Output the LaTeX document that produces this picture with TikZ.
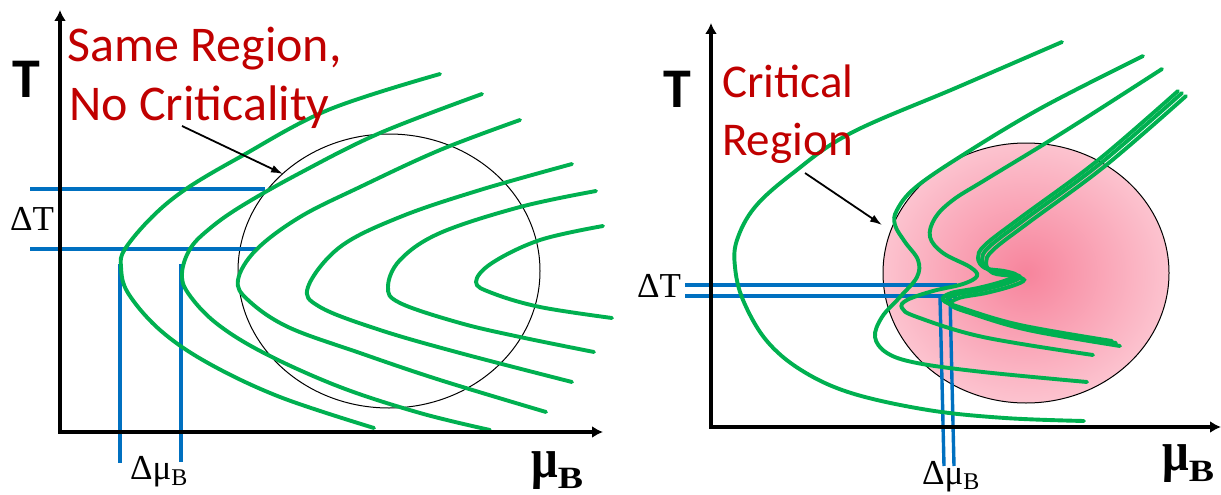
\documentclass[tikz,border=0pt]{standalone}
\usepackage{fontspec}
\setmainfont{Liberation Serif}
\newfontfamily\carlito{Carlito}
\usetikzlibrary{arrows.meta}
\definecolor{redtxt}{HTML}{C00000}
\definecolor{grn}{HTML}{00B050}
\definecolor{blu}{HTML}{0070C0}
\definecolor{pinkc}{HTML}{F7849C}
\definecolor{pinke}{HTML}{FCC3CF}
\newcommand{\mubold}{\scalebox{1}[1.2]{μ}\raisebox{-11pt}{\fontsize{31}{31}\selectfont\scalebox{1.22}[1]{B}}}
\begin{document}
\begin{tikzpicture}[x=1pt,y=-1pt,
 curve/.style={grn, line width=3.9pt, line cap=round},
 bline/.style={blu, line width=3.4pt},
 axis/.style={line width=3.2pt, {Latex[length=11pt,width=12pt]}-{Latex[length=11pt,width=12pt]}},
 pointer/.style={line width=1.8pt, -{Latex[length=12pt,width=8pt]}},
 redlbl/.style={text=redtxt, font=\carlito\fontsize{50}{50}\selectfont, inner sep=0pt, anchor=base west},
 redlblr/.style={redlbl, font=\carlito\fontsize{47}{47}\selectfont},
 bigT/.style={font=\carlito\bfseries\fontsize{56}{56}\selectfont, inner sep=0pt},
 delta/.style={font=\fontsize{35}{35}\selectfont, inner sep=0pt, anchor=base west},
 mub/.style={font=\bfseries\fontsize{47}{47}\selectfont, inner sep=0pt, anchor=base west},
 sm/.style={smooth, tension=0.6}
]
\useasboundingbox (0,0) rectangle (1221,495);
\fill[white] (0,0) rectangle (1221,495);

% ================= LEFT PANEL =================
\draw[line width=1pt] (389,271) ellipse [x radius=151pt, y radius=137pt];
% blue lines
\coordinate (lh1a) at (30,189); \coordinate (lh1b) at (265,189);
\coordinate (lh2a) at (30,249); \coordinate (lh2b) at (258,249);
\coordinate (lv1a) at (120,264); \coordinate (lv1b) at (120,463);
\coordinate (lv2a) at (181,264); \coordinate (lv2b) at (181,462);
\draw[bline] (lh1a) -- (lh1b);
\draw[bline] (lh2a) -- (lh2b);
\draw[bline] (lv1a) -- (lv1b);
\draw[bline] (lv2a) -- (lv2b);
% green curves
\draw[curve] plot[sm] coordinates {(440,74) (328,110) (240,157) (186,189) (152,217) (125,249) (121,267) (128,293) (160,330) (208,363) (280,397) (374,428)};
\draw[curve] plot[sm] coordinates {(482,94) (380,133) (300,173) (240,207) (208,230) (190,249) (182,273) (188,293) (216,323) (264,353) (340,387) (420,413) (490,430)};
\draw[curve] plot[sm] coordinates {(520,120) (440,150) (360,187) (300,217) (256,250) (238,280) (248,300) (288,327) (360,353) (440,380) (546,412)};
\draw[curve] plot[sm] coordinates {(572,164) (480,190) (400,217) (340,247) (308,287) (320,307) (380,330) (460,353) (572,382)};
\draw[curve] plot[sm] coordinates {(596,191) (520,207) (440,233) (400,260) (388,287) (400,303) (460,323) (520,337) (594,352)};
\draw[curve] plot[sm] coordinates {(603,226) (540,240) (492,263) (476,282) (492,293) (540,307) (612,318)};
% axes
\coordinate (lo) at (60,432); \coordinate (ly) at (60,10); \coordinate (lx) at (603,432);
\draw[axis] (ly) -- (lo) -- (lx);
% labels
\node[bigT] (lT) at (26,79) {T};
\node[redlbl] (lr1) at (67,62) {Same Region,};
\node[redlbl] (lr2) at (69,120) {No Criticality};
\coordinate (lpa) at (182,126); \coordinate (lpb) at (283,174);
\draw[pointer] (lpa) -- (lpb);
\node[delta] (ldT) at (10,230) {ΔT};
\node[delta] (ldm) at (130,479) {Δμ\raisebox{-6pt}{\fontsize{24}{24}\selectfont B}};
\node[mub] (lmu) at (531,477) {\mubold};

% ================= RIGHT PANEL =================
\draw[line width=1pt, inner color=pinkc, outer color=pinke] (1026,273) ellipse [x radius=143pt, y radius=130pt];
\coordinate (rh1a) at (685,285); \coordinate (rh1b) at (957,285);
\coordinate (rh2a) at (685,296); \coordinate (rh2b) at (957,296);
\coordinate (rv1a) at (940,297); \coordinate (rv1b) at (944,466);
\coordinate (rv2a) at (950,297); \coordinate (rv2b) at (954,466);
\draw[bline] (rh1a) -- (rh1b);
\draw[bline] (rh2a) -- (rh2b);
\draw[bline] (rv1a) -- (rv1b);
\draw[bline] (rv2a) -- (rv2b);
% green curves
\draw[curve] plot[sm] coordinates {(1062,42) (958,87) (851,133) (793,173) (755,207) (737,240) (735,267) (743,300) (766,340) (801,370) (851,393) (928,410) (1005,418) (1084,421)};
\draw[curve] plot[sm] coordinates {(1143,56) (1043,107) (966,153) (916,187) (897,210) (895,225) (905,242) (918,260) (917,277) (900,297) (882,317) (875,337) (887,353) (917,363) (983,372) (1087,382)};
\draw[curve] plot[sm] coordinates {(1162,69) (1062,133) (985,180) (953,200) (935,218) (930,237) (943,253) (970,267) (977,276) (963,284) (933,291) (907,300) (902,308) (917,317) (983,337) (1093,355)};
\foreach \dx/\dy in {-4/-2, 0/0, 4/3}{
\draw[curve, shift={(\dx,\dy)}] plot[sm] coordinates {(1182,93) (1101,163) (1024,220) (989,247) (982,260) (989,270) (1008,273) (1020,277) (1008,283) (982,290) (955,295) (947,302) (966,310) (1024,327) (1116,343)};
}
% axes
\coordinate (ro) at (711,427); \coordinate (ry) at (711,23); \coordinate (rx) at (1221,427);
\draw[axis] (ry) -- (ro) -- (rx);
\node[bigT] (rT) at (677,89) {T};
\node[redlblr] (rr1) at (722,98) {Critical};
\node[redlblr] (rr2) at (722,155) {Region};
\coordinate (rpa) at (805,173); \coordinate (rpb) at (882,225);
\draw[pointer] (rpa) -- (rpb);
\node[delta] (rdT) at (637,297) {ΔT};
\node[delta] (rdm) at (922,484) {Δμ\raisebox{-5pt}{\fontsize{24}{24}\selectfont B}};
\node[mub] (rmu) at (1162,470) {\mubold};
\end{tikzpicture}
\end{document}
